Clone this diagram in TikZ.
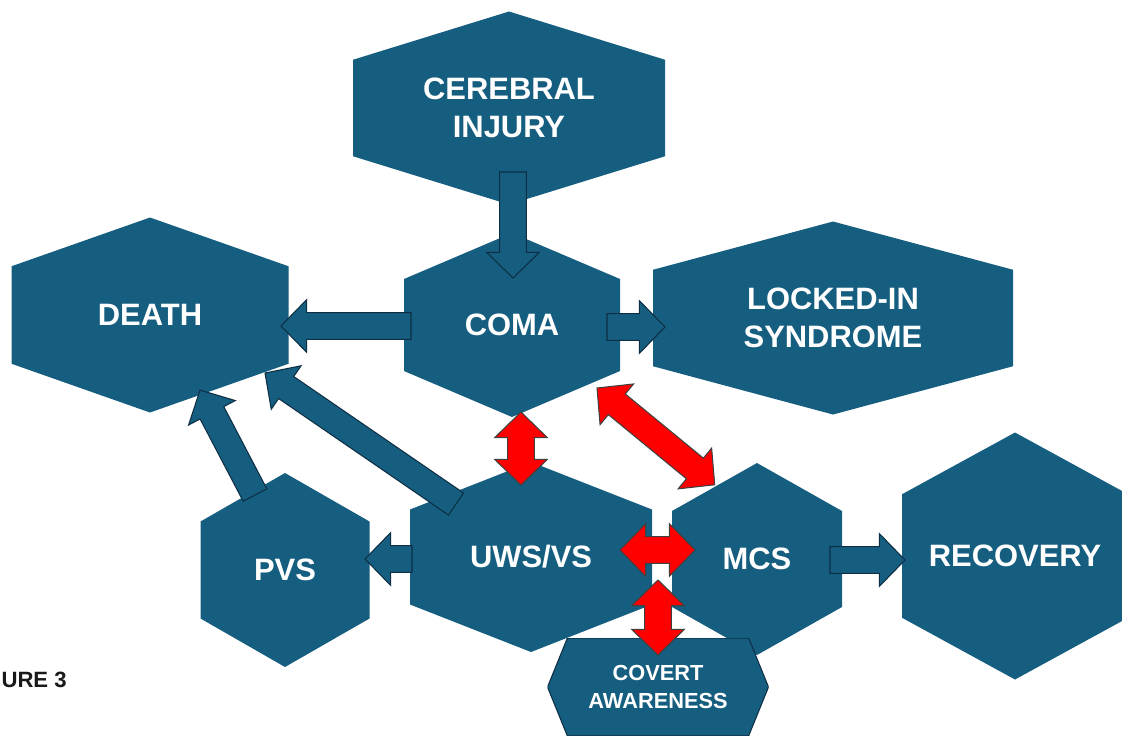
\documentclass[tikz,border=0pt]{standalone}
\usepackage{fontspec}
\setmainfont{Liberation Sans}
\usetikzlibrary{calc}
\definecolor{hexblue}{RGB}{22,94,128}
\definecolor{hexline}{RGB}{14,46,68}
\definecolor{linkred}{RGB}{255,0,0}
\def\ppb{path picture bounding box}
\tikzset{
every path/.style={line width=0.6pt}
, every node/.style={inner sep=0pt, align=center, text=white, font={\bfseries\fontsize{17.6}{22}\selectfont}}
, hexbox/.style 2 args={minimum width=#1*0.02cm, minimum height=#2*0.02cm,
    path picture={\fill[hexblue] (\ppb.north) -- ($(\ppb.north east)!0.25!(\ppb.south east)$)
      -- ($(\ppb.north east)!0.75!(\ppb.south east)$) -- (\ppb.south)
      -- ($(\ppb.north west)!0.75!(\ppb.south west)$) -- ($(\ppb.north west)!0.25!(\ppb.south west)$) -- cycle;}}
, flatbox/.style 2 args={minimum width=#1*0.02cm, minimum height=#2*0.02cm,
    path picture={\filldraw[fill=hexblue, draw=hexline] (\ppb.west) -- ($(\ppb.north west)!0.09!(\ppb.north east)$)
      -- ($(\ppb.north west)!0.91!(\ppb.north east)$) -- (\ppb.east)
      -- ($(\ppb.south west)!0.91!(\ppb.south east)$) -- ($(\ppb.south west)!0.09!(\ppb.south east)$) -- cycle;}}
, smalltext/.style={font={\bfseries\fontsize{12.4}{16.4}\selectfont}}
, bluearrow/.style={fill=hexblue, draw=hexline}
, redarrow/.style={fill=linkred, draw=black!75}
}
% fat arrows: half shaft, half head, head length
\def\fas{7.6pt}
\def\fah{15pt}
\def\fak{14.6pt}
\newdimen\fadx
\newdimen\fady
\newcommand\fameasure[2]{%
  \pgfextractx{\fadx}{\pgfpointdiff{\pgfpointanchor{#1}{center}}{\pgfpointanchor{#2}{center}}}%
  \pgfextracty{\fady}{\pgfpointdiff{\pgfpointanchor{#1}{center}}{\pgfpointanchor{#2}{center}}}%
  \pgfmathsetmacro\faang{atan2(\fady,\fadx)}%
  \pgfmathsetmacro\falen{veclen(\fadx,\fady)}}
\newcommand\onearrow[3]{%
  \fameasure{#2}{#3}%
  \draw[#1, shift={(#2)}, rotate=\faang] (0pt,-\fas) -- (\falen pt-\fak,-\fas) -- (\falen pt-\fak,-\fah)
    -- (\falen pt,0pt) -- (\falen pt-\fak,\fah) -- (\falen pt-\fak,\fas) -- (0pt,\fas) -- cycle;}
\newcommand\twoarrow[3]{%
  \fameasure{#2}{#3}%
  \draw[#1, shift={(#2)}, rotate=\faang] (0pt,0pt) -- (\fak,\fah) -- (\fak,\fas) -- (\falen pt-\fak,\fas)
    -- (\falen pt-\fak,\fah) -- (\falen pt,0pt) -- (\falen pt-\fak,-\fah) -- (\falen pt-\fak,-\fas)
    -- (\fak,-\fas) -- (\fak,-\fah) -- cycle;}

\begin{document}
\begin{tikzpicture}[x=0.02cm,y=-0.02cm]
\useasboundingbox (0,0) rectangle (1122,735);
\node[hexbox={312}{193}] (inj) at (509,108) {CEREBRAL\\INJURY};
\node[hexbox={277}{195}] (death) at (150,315) {DEATH};
\node[hexbox={216}{184}] (coma) at (512,325) {COMA};
\node[hexbox={360}{193}] (locked) at (833,318) {LOCKED-IN\\SYNDROME};
\node[hexbox={169}{194}] (pvs) at (285,570) {PVS};
\node[hexbox={242}{190}] (uws) at (531,557) {UWS/VS};
\node[hexbox={170}{192}] (mcs) at (757,559) {MCS};
\node[hexbox={226}{247}] (rec) at (1015,556) {RECOVERY};
\node[flatbox={221}{98}, smalltext] (cov) at (658,687) {COVERT\\AWARENESS};
\node[anchor=base west, text=black!90, font={\bfseries\fontsize{12.6}{14}\selectfont}] (fig) at (1,687) {URE 3};
% arrow ends
\coordinate (inj-s) at (513,172);
\coordinate (coma-n) at (513,278);
\coordinate (coma-w) at (411,326);
\coordinate (death-e) at (281,326);
\coordinate (coma-e) at (607,327);
\coordinate (locked-w) at (665,327);
\coordinate (pvs-n) at (255,495);
\coordinate (death-s) at (200,390);
\coordinate (uws-nw) at (456,504);
\coordinate (death-se) at (265,373);
\coordinate (uws-w) at (412,559);
\coordinate (pvs-e) at (365,559);
\coordinate (mcs-e) at (830,560);
\coordinate (rec-w) at (905,560);
\coordinate (coma-s) at (521,412);
\coordinate (uws-n) at (521,485);
\coordinate (coma-se) at (597,388);
\coordinate (mcs-nw) at (715,485);
\coordinate (uws-e) at (620,550);
\coordinate (mcs-w) at (695,550);
\coordinate (gap-s) at (658,580);
\coordinate (cov-n) at (658,655);
\onearrow{bluearrow}{inj-s}{coma-n}
\onearrow{bluearrow}{coma-w}{death-e}
\onearrow{bluearrow}{coma-e}{locked-w}
\onearrow{bluearrow}{pvs-n}{death-s}
\onearrow{bluearrow}{uws-nw}{death-se}
\onearrow{bluearrow}{uws-w}{pvs-e}
\onearrow{bluearrow}{mcs-e}{rec-w}
\twoarrow{redarrow}{coma-s}{uws-n}
\twoarrow{redarrow}{coma-se}{mcs-nw}
\twoarrow{redarrow}{uws-e}{mcs-w}
\twoarrow{redarrow}{gap-s}{cov-n}
\end{tikzpicture}
\end{document}
